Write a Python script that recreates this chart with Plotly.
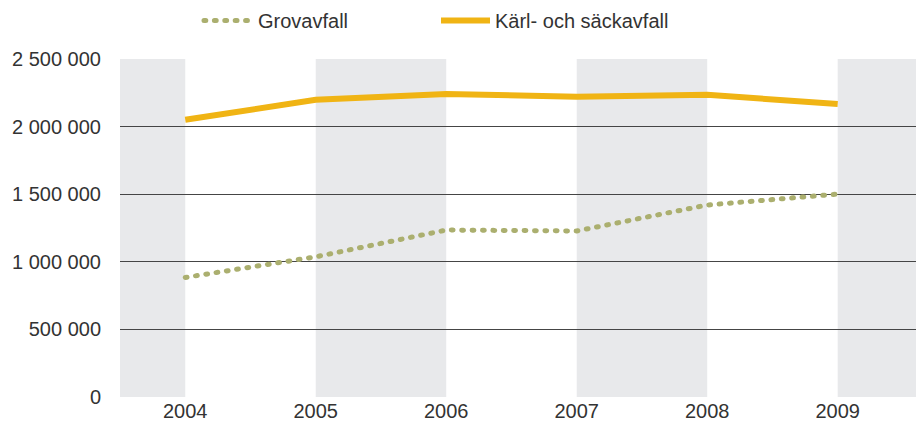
import plotly.graph_objects as go

years = [2004, 2005, 2006, 2007, 2008, 2009]
grovavfall = [884000, 1037000, 1235000, 1228000, 1420000, 1501000]
karl_sack = [2050000, 2198000, 2242000, 2220000, 2235000, 2168000]
y_ticks = [0, 500000, 1000000, 1500000, 2000000, 2500000]
y_tick_labels = ["0", "500 000", "1 000 000", "1 500 000", "2 000 000", "2 500 000"]
band_spans = [(2003.5, 2004), (2005, 2006), (2007, 2008), (2009, 2009.6)]

FONT = "Liberation Sans, Arial, sans-serif"

fig = go.Figure()
fig.add_trace(go.Scatter(
    x=years, y=grovavfall, mode="lines", name="Grovavfall",
    line=dict(color="#abaf6f", width=5, dash="1.8px,8.6px"),
))
fig.add_trace(go.Scatter(
    x=years, y=karl_sack, mode="lines", name="Kärl- och säckavfall",
    line=dict(color="#f0b414", width=6),
))

for x0, x1 in band_spans:
    fig.add_shape(type="rect", xref="x", yref="paper", x0=x0, x1=x1, y0=0, y1=1,
                  fillcolor="#e8e9eb", line=dict(width=0), layer="below")

fig.update_layout(
    width=916, height=432,
    margin=dict(l=120, r=0, t=59, b=35),
    paper_bgcolor="white", plot_bgcolor="white",
    font=dict(family=FONT, size=20, color="#333333"),
    showlegend=True,
    legend=dict(orientation="h", xref="container", yref="container",
                x=199/916, y=1 - 1/432, xanchor="left", yanchor="top",
                itemwidth=49, entrywidth=173, entrywidthmode="pixels",
                font=dict(size=20, color="#333333"), bgcolor="rgba(0,0,0,0)"),
    xaxis=dict(range=[2003.5, 2009.6], tickvals=years, ticktext=[str(y) for y in years],
               showgrid=False, zeroline=False, showline=False, ticks="",
               tickfont=dict(size=20, color="#333333")),
    yaxis=dict(range=[0, 2500000], tickvals=y_ticks, ticktext=y_tick_labels,
               showgrid=True, gridcolor="#454545", gridwidth=1.3, zeroline=False,
               showline=False, ticks="", ticklabelstandoff=18,
               tickfont=dict(size=20, color="#333333")),
)

round_dots = (
    "document.body.style.margin='0';"
    "document.querySelectorAll('path').forEach(function(p){"
    "var d=p.style.strokeDasharray; if(d && d!=='none'){p.style.strokeLinecap='round';}});"
)

fig.write_html("out.html", config={"displayModeBar": False}, post_script=round_dots)
